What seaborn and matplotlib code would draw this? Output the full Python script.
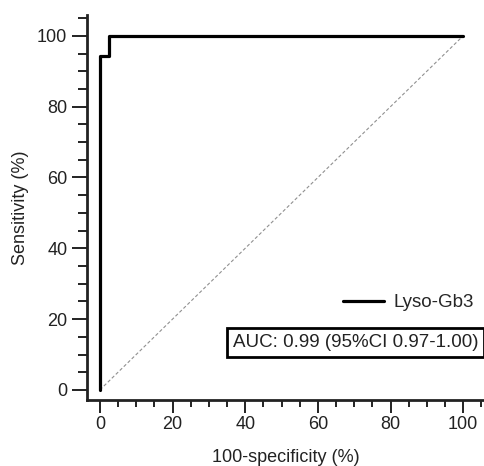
import matplotlib
matplotlib.use("Agg")
import matplotlib.pyplot as plt
import seaborn as sns
import pandas as pd
from matplotlib.ticker import MultipleLocator

# ROC curve points
fpr = [0, 0, 2.6, 2.6, 100]
tpr = [0, 94.4, 94.4, 100, 100]
ref_x = [0, 100]
ref_y = [0, 100]
marker_name = "Lyso-Gb3"
auc_text = "AUC: 0.99 (95%CI 0.97-1.00)"

sns.set_style("ticks")
plt.rcParams["font.family"] = ["Liberation Sans", "DejaVu Sans"]

df = pd.DataFrame({"fpr": fpr, "tpr": tpr})

fig = plt.figure(figsize=(4.85, 4.66), dpi=100)
ax = fig.add_axes([0.179, 0.142, 0.821, 0.826])

ax.plot(ref_x, ref_y, color="#909090", lw=0.8, ls=(0, (3, 2)))
sns.lineplot(data=df, x="fpr", y="tpr", sort=False, estimator=None,
             color="black", lw=2.3, label=marker_name, ax=ax)

ax.set_xlim(-3.6, 106)
ax.set_ylim(-2.8, 105.9)
ax.xaxis.set_major_locator(MultipleLocator(20))
ax.yaxis.set_major_locator(MultipleLocator(20))
ax.xaxis.set_minor_locator(MultipleLocator(5))
ax.yaxis.set_minor_locator(MultipleLocator(5))

sns.despine(ax=ax)
for s in ["left", "bottom"]:
    ax.spines[s].set_linewidth(2)
    ax.spines[s].set_color("#222222")

ax.tick_params(axis="both", which="both", direction="out", width=1.4,
               color="#222222", labelsize=13, labelcolor="#222222")
ax.tick_params(axis="y", which="major", length=11, pad=3)
ax.tick_params(axis="y", which="minor", length=6.5)
ax.tick_params(axis="x", which="major", length=9, pad=3)
ax.tick_params(axis="x", which="minor", length=5)

ax.set_xlabel("100-specificity (%)", fontsize=13, color="#222222", labelpad=11)
ax.set_ylabel("Sensitivity (%)", fontsize=13, color="#222222", labelpad=6)

ax.legend(loc="center right", bbox_to_anchor=(1.015, 0.252), frameon=False,
          fontsize=13.5, handlelength=2.2, handletextpad=0.5)

ax.text(0.675, 0.149, auc_text, transform=ax.transAxes, ha="center", va="center",
        fontsize=13.5, color="#222222",
        bbox=dict(boxstyle="square,pad=0.3", fc="white", ec="black", lw=2))

fig.savefig("out.png", dpi=100)
